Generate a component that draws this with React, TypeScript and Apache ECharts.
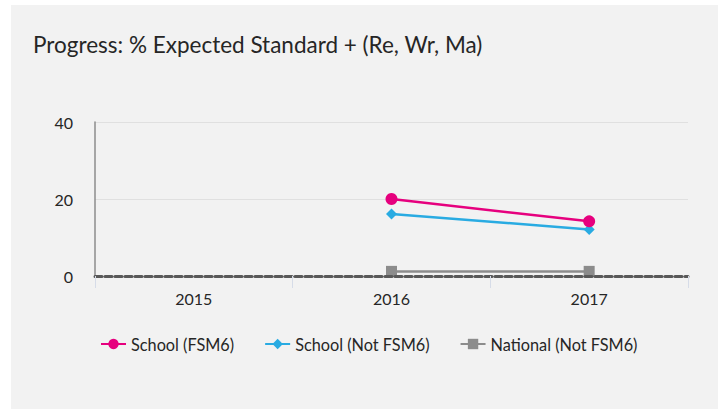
import React, { useEffect, useRef } from "react";
import * as echarts from "echarts";

const categories = ["2015", "2016", "2017"];
const schoolFsm6 = [null, 20, 14.2];
const schoolNotFsm6 = [null, 16.1, 12.1];
const nationalNotFsm6 = [null, 1.2, 1.2];
const yTicks = [0, 20, 40];

export default function App() {
  const ref = useRef<HTMLDivElement>(null);
  useEffect(() => {
    document.body.style.margin = "0";
    const chart = echarts.init(ref.current!, null, { renderer: "svg" });
    const font = "Lato, 'Noto Sans', sans-serif";
    chart.setOption({
      animation: false,
      backgroundColor: "#ffffff",
      textStyle: { fontFamily: font },
      graphic: [
        {
          type: "rect",
          shape: { x: 11, y: 5, width: 707, height: 404 },
          style: { fill: "#f2f2f2" },
          z: -10,
        },
      ],
      title: {
        text: "Progress: % Expected Standard + (Re, Wr, Ma)",
        left: 28,
        top: 28,
        textStyle: { fontFamily: font, fontSize: 22.5, fontWeight: "normal", color: "#262626" },
      },
      legend: {
        left: 95,
        top: 331,
        itemWidth: 25,
        itemHeight: 13,
        itemGap: 30,
        textStyle: { fontFamily: font, fontSize: 16.3, color: "#262626" },
        data: ["School (FSM6)", "School (Not FSM6)", "National (Not FSM6)"],
      },
      grid: { left: 95, right: 38, top: 122, bottom: 133 },
      xAxis: {
        type: "category",
        data: categories,
        boundaryGap: true,
        axisLine: { lineStyle: { color: "#595959", width: 3, type: [7, 3] } },
        axisTick: { show: true, length: 12, lineStyle: { color: "#d6dce8", width: 1 } },
        axisLabel: { fontFamily: font, fontSize: 16, color: "#262626", margin: 14 },
        z: 5,
      },
      yAxis: {
        type: "value",
        min: yTicks[0],
        max: yTicks[yTicks.length - 1],
        interval: 20,
        axisLine: { show: true, lineStyle: { color: "#8c8c8c", width: 1.5 } },
        axisTick: { show: false },
        axisLabel: { fontFamily: font, fontSize: 16, color: "#262626", margin: 22 },
        splitLine: { lineStyle: { color: "#e0e0e0", width: 1 } },
      },
      series: [
        {
          name: "School (FSM6)",
          type: "line",
          data: schoolFsm6,
          symbol: "circle",
          symbolSize: 12,
          lineStyle: { color: "#e6007e", width: 2.5 },
          itemStyle: { color: "#e6007e" },
          z: 4,
        },
        {
          name: "School (Not FSM6)",
          type: "line",
          data: schoolNotFsm6,
          symbol: "diamond",
          symbolSize: 11,
          lineStyle: { color: "#29abe2", width: 2.5 },
          itemStyle: { color: "#29abe2" },
          z: 3,
        },
        {
          name: "National (Not FSM6)",
          type: "line",
          data: nationalNotFsm6,
          symbol: "rect",
          symbolSize: 11,
          lineStyle: { color: "#8c8c8c", width: 2.5 },
          itemStyle: { color: "#8c8c8c" },
          z: 2,
        },
      ],
    });
    return () => chart.dispose();
  }, []);
  return <div ref={ref} style={{ width: 726, height: 409 }} />;
}
